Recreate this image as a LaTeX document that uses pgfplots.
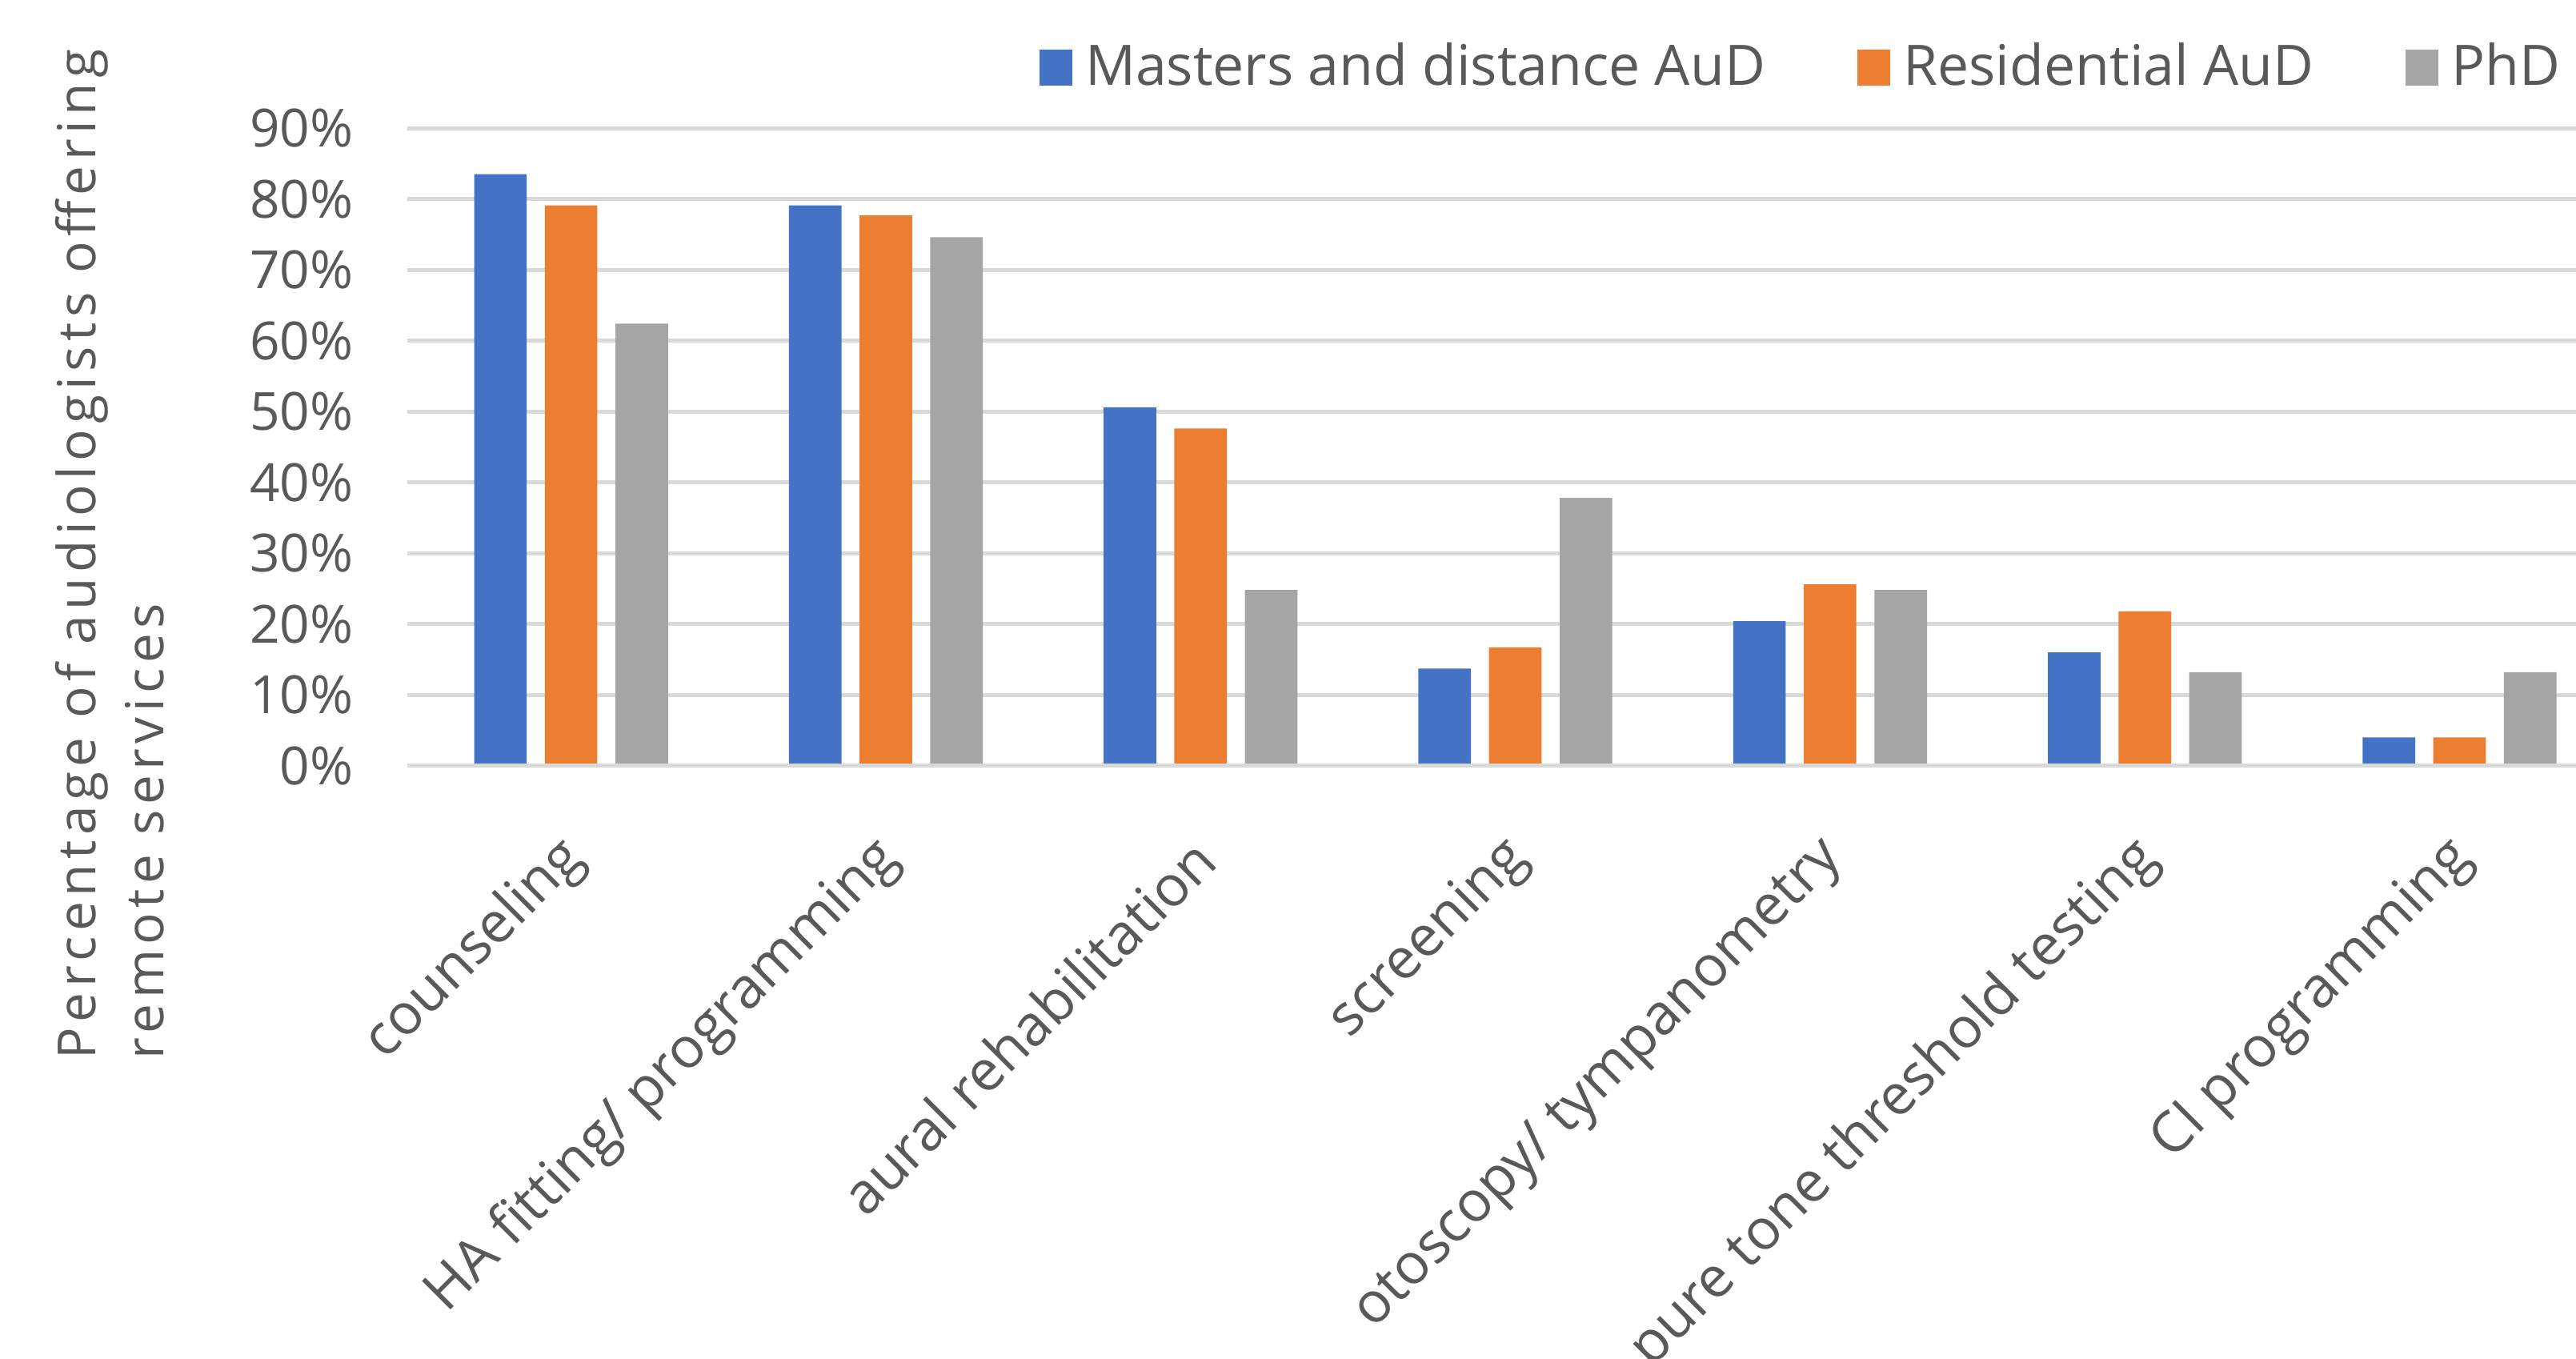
\documentclass[border=0pt]{standalone}
\usepackage{fontspec}
\setmainfont{Open Sans}
\usepackage{pgfplots}
\pgfplotsset{compat=1.18}
\definecolor{cblue}{HTML}{4472C4}
\definecolor{corange}{HTML}{ED7D31}
\definecolor{cgray}{HTML}{A5A5A5}
\definecolor{ctext}{HTML}{595959}
\definecolor{cgrid}{HTML}{D9D9D9}
\begin{document}
\fontsize{16}{19}\selectfont
\begin{tikzpicture}
\useasboundingbox (-124pt,-180.5pt) rectangle (660pt,233pt);
\begin{axis}[
  name=ax,
  at={(0,0)}, anchor=south west,
  scale only axis,
  width=660pt, height=194pt,
  ybar=5.5pt, bar width=16pt,
  xmin=-0.52, xmax=6.37,
  ymin=0, ymax=90,
  axis line style={draw=none},
  ytick={0,10,...,90},
  yticklabels={0\%,10\%,20\%,30\%,40\%,50\%,60\%,70\%,80\%,90\%},
  ymajorgrids, grid style={cgrid, line width=1.2pt},
  major tick length=0pt,
  tick style={draw=none},
  yticklabel style={text=ctext, xshift=-11pt},
  xtick={0,...,6},
  xticklabels={counseling, HA fitting/ programming, aural rehabilitation, screening, otoscopy/ tympanometry, pure tone threshold testing, CI programming},
  xticklabel style={text=ctext, font=\fontsize{17.2}{20}\selectfont, rotate=45, anchor=east, inner sep=0pt, xshift=-17pt, yshift=-19pt},
  legend columns=-1,
  legend style={draw=none, fill=none, at={(0.291,1.095)}, anchor=west, inner sep=0pt,
    text=ctext, font=\fontsize{17}{20}\selectfont, nodes={inner sep=0pt},
    /tikz/every odd column/.append style={column sep=4pt},
    /tikz/every even column/.append style={column sep=28pt}},
]
\addplot[fill=cblue, draw=none, legend image code/.code={\fill[cblue] (0pt,-5.5pt) rectangle (10pt,5.5pt);}] coordinates {(0,83.5) (1,79.1) (2,50.6) (3,13.7) (4,20.4) (5,16.0) (6,4.0)};
\addplot[fill=corange, draw=none, legend image code/.code={\fill[corange] (0pt,-5.5pt) rectangle (10pt,5.5pt);}] coordinates {(0,79.1) (1,77.7) (2,47.6) (3,16.7) (4,25.6) (5,21.8) (6,4.0)};
\addplot[fill=cgray, draw=none, legend image code/.code={\fill[cgray] (0pt,-5.5pt) rectangle (10pt,5.5pt);}] coordinates {(0,62.4) (1,74.6) (2,24.8) (3,37.8) (4,24.8) (5,13.2) (6,13.2)};
\legend{Masters and distance AuD, Residential AuD, PhD}
\draw[cgrid, line width=1.2pt] (rel axis cs:0,0) -- (rel axis cs:1,0);
\end{axis}
\node[rotate=90, anchor=west, inner sep=0pt, text=ctext, font=\addfontfeature{LetterSpace=10}] at (-99pt,-89.5pt) {Percentage of audiologists offering};
\node[rotate=90, anchor=west, inner sep=0pt, text=ctext, font=\addfontfeature{LetterSpace=10}] at (-80pt,-89.5pt) {remote services};
\end{tikzpicture}
\end{document}
